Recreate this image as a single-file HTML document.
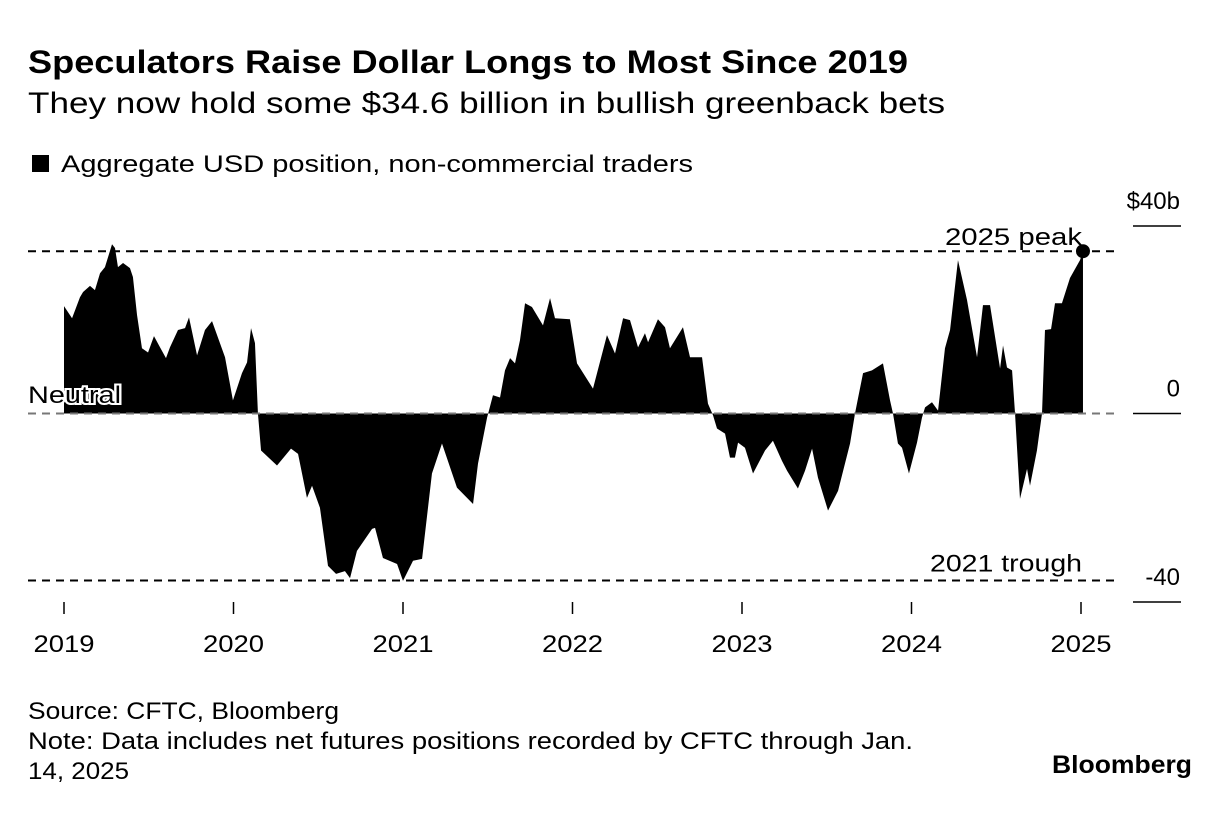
<!DOCTYPE html>
<html><head><meta charset="utf-8"><style>
html,body{margin:0;padding:0;background:#fff;}
body{width:1231px;height:824px;overflow:hidden;font-family:"Liberation Sans",Arial,sans-serif;}
svg text{font-family:"Liberation Sans",Arial,sans-serif;fill:#000;}
</style></head><body>
<svg id="chart" width="1231" height="824">
<text x="28" y="73" font-size="32" font-weight="bold" textLength="880" lengthAdjust="spacingAndGlyphs">Speculators Raise Dollar Longs to Most Since 2019</text>
<text x="28" y="113" font-size="30" textLength="917" lengthAdjust="spacingAndGlyphs">They now hold some $34.6 billion in bullish greenback bets</text>
<rect x="32" y="155" width="17" height="17" fill="#000"/>
<text x="61" y="172" font-size="24" textLength="632" lengthAdjust="spacingAndGlyphs">Aggregate USD position, non-commercial traders</text>
<g id="plot"></g>
<text x="28" y="719" font-size="24" textLength="311" lengthAdjust="spacingAndGlyphs">Source: CFTC, Bloomberg</text>
<text x="28" y="749" font-size="24" textLength="885" lengthAdjust="spacingAndGlyphs">Note: Data includes net futures positions recorded by CFTC through Jan.</text>
<text x="28" y="779" font-size="24" textLength="101" lengthAdjust="spacingAndGlyphs">14, 2025</text>
<text x="1192" y="773" font-size="25" font-weight="bold" text-anchor="end" textLength="140" lengthAdjust="spacingAndGlyphs">Bloomberg</text>
</svg>
<script>
// months since Jan 2019
const months = [0,0.57,1.13,1.35,1.84,2.19,2.55,2.9,3.4,3.61,3.82,4.18,4.67,4.88,5.17,5.52,5.95,6.37,6.8,7.22,7.5,8.07,8.57,8.85,9.42,9.98,10.48,11.04,11.4,11.96,12.6,12.96,13.24,13.52,13.73,13.95,15.08,16.07,16.57,17.2,17.56,18.12,18.69,19.26,19.89,20.25,20.74,21.81,22.02,22.58,23.58,24,24.71,25.35,26.05,26.76,27.82,28.96,29.31,29.95,30.37,30.87,31.22,31.58,31.93,32.28,32.64,33.13,33.91,34.41,34.76,35.82,36.32,37.45,38.44,39.01,39.58,40.07,40.64,41.13,41.35,42.05,42.55,42.9,43.82,44.32,45.17,45.59,45.95,46.23,46.8,47.15,47.5,47.72,48.21,48.78,49.63,50.19,50.83,51.19,51.96,52.46,52.96,53.38,54.09,54.8,55.65,56,56.21,56.57,57.2,57.98,58.48,58.69,59.04,59.33,59.82,60.39,60.74,60.96,61.45,61.88,62.37,62.73,63.29,63.93,64.64,65.06,65.56,66.27,66.48,66.76,67.12,67.33,67.68,68.18,68.39,68.88,69.24,69.45,69.88,70.16,70.65,71.22,71.93,72.14];
const values = [22.9,20.3,24.8,25.9,27.2,26.3,29.9,31.2,36.1,35.3,31.2,32.1,31,29.1,21,13.9,13,16.5,14.1,11.8,14.1,17.8,18.2,20.5,12.4,17.8,19.7,15,12,2.8,8.6,10.9,18.2,15,0,-7.9,-11.1,-7.5,-8.6,-18,-15.4,-20.1,-32.5,-34.2,-33.6,-35.1,-29.3,-24.6,-24.4,-30.8,-32.1,-35.7,-31.4,-31,-12.8,-6.4,-15.8,-19.3,-10.7,-0.9,3.9,3.4,9.2,11.8,10.7,15.6,23.5,22.7,18.8,24.6,20.3,20.1,10.7,5.3,16.7,12.8,20.3,19.9,14.1,17.1,15.2,20.1,18.4,13.9,18.4,12,12,2.1,-0.4,-3.2,-4.3,-9.4,-9.4,-6.2,-7.3,-12.8,-7.9,-5.8,-10.1,-12.2,-16,-12.2,-7.5,-13.7,-20.7,-16.5,-6.4,0,3.2,8.6,9.2,10.7,2.8,0,-6.4,-7.3,-12.8,-6.2,-0.9,1.3,2.4,0.6,13.9,17.8,32.7,24.2,12,23.1,23.1,9.6,14.5,9.8,9.2,0,-18.2,-11.8,-15.4,-7.9,0,17.8,18,23.5,23.5,28.9,32.7,34.6];
const yearLabels = ["2019","2020","2021","2022","2023","2024","2025"];
const yTicks = [40,0,-40];
const yTickLabels = ["$40b","0","-40"];
const peakValue = 34.6, troughValue = -35.6;

const NS="http://www.w3.org/2000/svg";
const g=document.getElementById('plot');
const X=m=>64+m*14.125;
const Y=v=>413.5-v*4.69;
function mk(t,a){const e=document.createElementNS(NS,t);for(const k in a)e.setAttribute(k,a[k]);g.appendChild(e);return e;}

let d=`M${X(months[0])},${Y(0)}`;
months.forEach((m,i)=>{d+=`L${X(m)},${Y(values[i])}`;});
d+=`L${X(months[months.length-1])},${Y(0)}Z`;
const area=mk('path',{d:d,fill:'#000'});



const zl=mk('line',{x1:28,x2:1120,y1:Y(0),y2:Y(0),stroke:'#777',"stroke-width":2,"stroke-dasharray":"8,6"});


const pl=mk('line',{x1:28,x2:1118,y1:Y(peakValue),y2:Y(peakValue),stroke:'#000',"stroke-width":2,"stroke-dasharray":"8,6"});


const tl=mk('line',{x1:28,x2:1118,y1:Y(troughValue),y2:Y(troughValue),stroke:'#000',"stroke-width":2,"stroke-dasharray":"8,6"});



const dot=mk('circle',{cx:X(months[months.length-1]),cy:Y(values[values.length-1]),r:7,fill:'#000'});



const pk=mk('text',{x:1082,y:Y(peakValue)-6,"font-size":24,"text-anchor":"end",textLength:137,lengthAdjust:"spacingAndGlyphs"});pk.textContent="2025 peak";


const tr=mk('text',{x:1082,y:Y(troughValue)-9,"font-size":24,"text-anchor":"end",textLength:152,lengthAdjust:"spacingAndGlyphs"});tr.textContent="2021 trough";


const nt=mk('text',{x:28,y:403,"font-size":24,stroke:'#fff',"stroke-width":4,"paint-order":"stroke",textLength:93,lengthAdjust:"spacingAndGlyphs"});nt.textContent="Neutral";



yTicks.forEach((v,i)=>{
  const ty=i===1?Y(v):(v>0?226:602);
  const l=mk('line',{x1:1133,x2:1181,y1:ty,y2:ty,stroke:'#000',"stroke-width":1.5});
  
  
  const t=mk('text',{x:1180,y:ty-17,"font-size":24,"text-anchor":"end"});t.textContent=yTickLabels[i];
  
  
});
yearLabels.forEach((lab,i)=>{
  const x=X(i*12);
  const l=mk('line',{x1:x,x2:x,y1:602,y2:614,stroke:'#000',"stroke-width":1.5});
  
  
  const t=mk('text',{x:x,y:652,"font-size":24,"text-anchor":"middle",textLength:61,lengthAdjust:"spacingAndGlyphs"});t.textContent=lab;
  
  
});
</script>
</body></html>
